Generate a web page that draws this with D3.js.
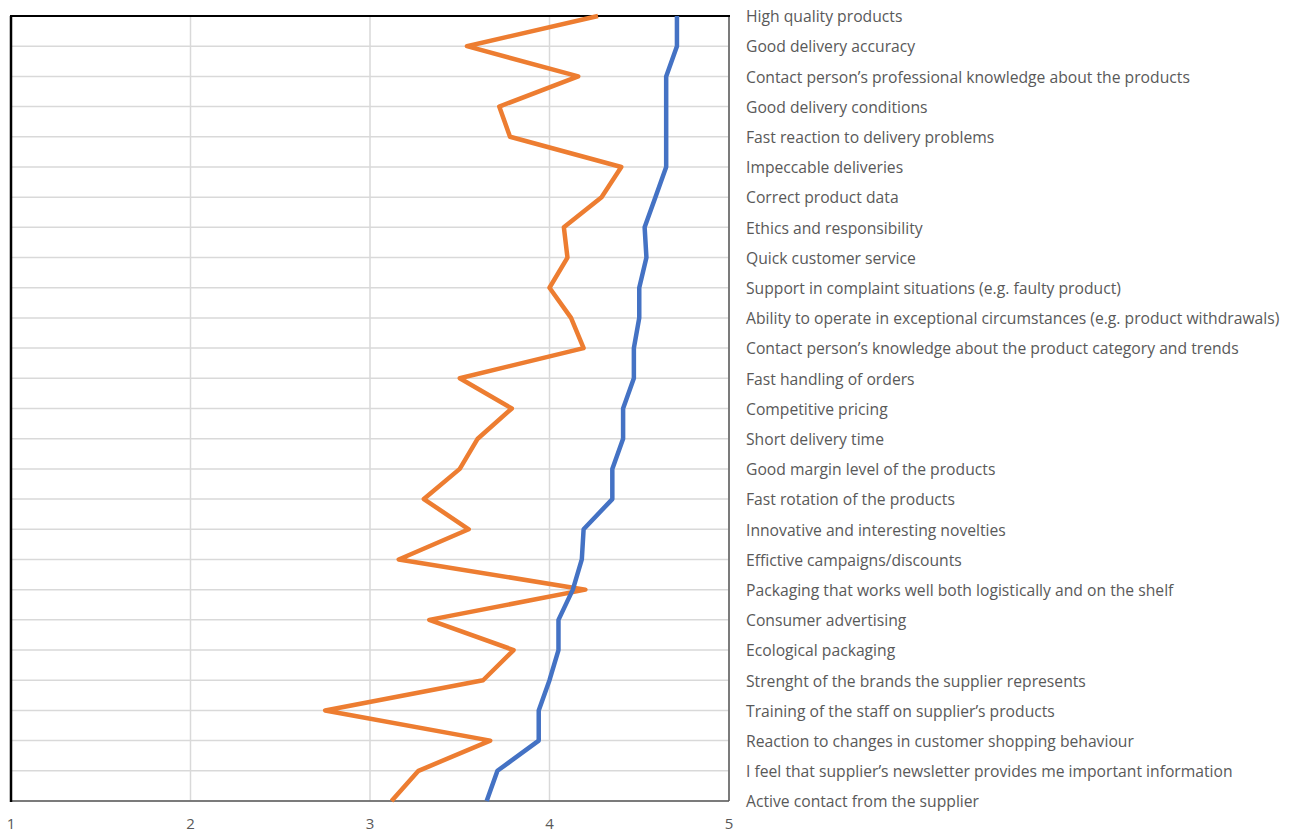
<!DOCTYPE html>
<html>
<head>
<meta charset="utf-8">
<script src="https://cdn.jsdelivr.net/npm/d3@7"></script>
<style>
  body { margin: 0; background: #fff; }
  text { font-family: "Open Sans", "Noto Sans", sans-serif; fill: #595959; }
</style>
</head>
<body>
<div id="canvas"></div>
<script>
// categories, top to bottom
var categories = [
  "High quality products",
  "Good delivery accuracy",
  "Contact person\u2019s professional knowledge about the products",
  "Good delivery conditions",
  "Fast reaction to delivery problems",
  "Impeccable deliveries",
  "Correct product data",
  "Ethics and responsibility",
  "Quick customer service",
  "Support in complaint situations (e.g. faulty product)",
  "Ability to operate in exceptional circumstances (e.g. product withdrawals)",
  "Contact person\u2019s knowledge about the product category and trends",
  "Fast handling of orders",
  "Competitive pricing",
  "Short delivery time",
  "Good margin level of the products",
  "Fast rotation of the products",
  "Innovative and interesting novelties",
  "Effictive campaigns/discounts",
  "Packaging that works well both logistically and on the shelf",
  "Consumer advertising",
  "Ecological packaging",
  "Strenght of the brands the supplier represents",
  "Training of the staff on supplier\u2019s products",
  "Reaction to changes in customer shopping behaviour",
  "I feel that supplier\u2019s newsletter provides me important information",
  "Active contact from the supplier"
];

var importance = [4.71, 4.71, 4.65, 4.65, 4.65, 4.65, 4.59, 4.53, 4.54, 4.50, 4.50, 4.47, 4.47, 4.41,
                  4.41, 4.35, 4.35, 4.19, 4.18, 4.13, 4.05, 4.05, 4.00, 3.94, 3.94, 3.71, 3.65];
var performance = [4.27, 3.54, 4.16, 3.72, 3.78, 4.40, 4.29, 4.08, 4.10, 4.00, 4.12, 4.19, 3.50, 3.79,
                   3.60, 3.50, 3.30, 3.55, 3.16, 4.20, 3.33, 3.80, 3.63, 2.75, 3.67, 3.27, 3.12];
var xTicks = [1, 2, 3, 4, 5];

var width = 1301, height = 832;
var plotLeft = 11, plotRight = 729, plotTop = 16, plotBottom = 801;

var svg = d3.select("#canvas").append("svg")
  .attr("width", width)
  .attr("height", height);

var x = d3.scaleLinear().domain([1, 5]).range([plotLeft, plotRight]);
var y = d3.scalePoint().domain(categories).range([plotTop, plotBottom]);

// gridlines
svg.append("g").selectAll("line")
  .data(categories)
  .enter().append("line")
  .attr("x1", plotLeft).attr("x2", plotRight)
  .attr("y1", d => y(d)).attr("y2", d => y(d))
  .attr("stroke", "#d9d9d9").attr("stroke-width", 1.5);

svg.append("g").selectAll("line")
  .data(xTicks)
  .enter().append("line")
  .attr("x1", d => x(d)).attr("x2", d => x(d))
  .attr("y1", plotTop).attr("y2", plotBottom)
  .attr("stroke", "#d9d9d9").attr("stroke-width", 1.5);

// frame
svg.append("line").attr("x1", plotLeft).attr("x2", plotRight).attr("y1", plotBottom).attr("y2", plotBottom)
  .attr("stroke", "#595959").attr("stroke-width", 1.5);
svg.append("line").attr("x1", plotRight).attr("x2", plotRight).attr("y1", plotTop).attr("y2", plotBottom)
  .attr("stroke", "#595959").attr("stroke-width", 1.5);
svg.append("line").attr("x1", plotLeft - 1).attr("x2", plotRight + 1).attr("y1", plotTop).attr("y2", plotTop)
  .attr("stroke", "#000").attr("stroke-width", 2);
svg.append("line").attr("x1", plotLeft).attr("x2", plotLeft).attr("y1", plotTop).attr("y2", plotBottom + 1)
  .attr("stroke", "#000").attr("stroke-width", 2.5);

// lines
var line = d3.line()
  .x(d => x(d.v))
  .y(d => y(d.c));

function series(vals) {
  return vals.map((v, i) => ({ c: categories[i], v: v }));
}

svg.append("path")
  .datum(series(performance))
  .attr("fill", "none")
  .attr("stroke", "#ed7d31")
  .attr("stroke-width", 4.5)
  .attr("stroke-linejoin", "round")
  .attr("d", line);

svg.append("path")
  .datum(series(importance))
  .attr("fill", "none")
  .attr("stroke", "#4472c4")
  .attr("stroke-width", 4.5)
  .attr("stroke-linejoin", "round")
  .attr("d", line);

// category labels
svg.append("g").selectAll("text")
  .data(categories)
  .enter().append("text")
  .attr("x", 746)
  .attr("y", d => y(d))
  .attr("dy", "0.4em")
  .style("font-size", "15.7px")
  .text(d => d);

// x tick labels
svg.append("g").selectAll("text")
  .data(xTicks)
  .enter().append("text")
  .attr("x", d => x(d))
  .attr("y", 829)
  .attr("text-anchor", "middle")
  .style("font-size", "15px")
  .text(d => d);
</script>
</body>
</html>
